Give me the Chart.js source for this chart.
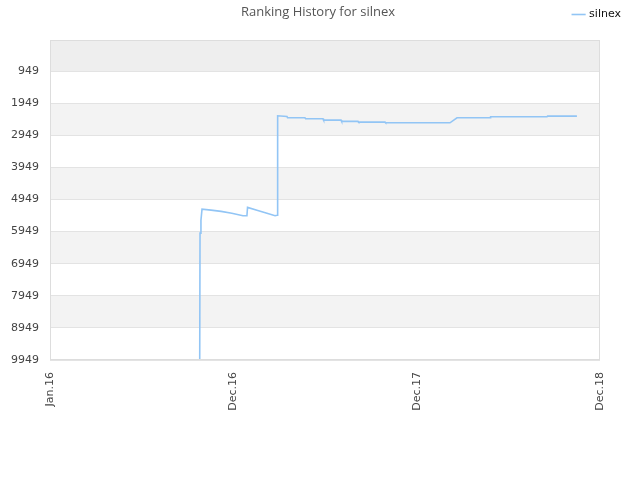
<!DOCTYPE html>
<html>
<head>
<meta charset="utf-8">
<script src="https://cdn.jsdelivr.net/npm/chart.js@4/dist/chart.umd.min.js"></script>
<style>
  html, body { margin: 0; padding: 0; background: #fff; }
  #wrap { width: 640px; height: 480px; }
</style>
</head>
<body>
<div id="wrap"><canvas id="chart" width="640" height="480"></canvas></div>
<script>
// month index from Jan.16 (tick labels are spaced evenly, 12 units apart)
const tickPositions = [0, 12, 24, 36];
const tickLabels = ['Jan.16', 'Dec.16', 'Dec.17', 'Dec.18'];
const rankTicks = [949, 1949, 2949, 3949, 4949, 5949, 6949, 7949, 8949, 9949];

// silnex ranking
const months = [9.49, 9.80, 9.82, 9.88, 9.95, 10.54, 11.2, 11.9, 12.63, 12.89, 12.93, 13.6, 14.2, 14.73, 14.86, 14.88, 14.92,
    15.51, 15.55, 16.69, 16.73, 17.87, 17.91, 19.05, 19.09, 20.16, 20.2, 21.93, 21.97, 26.18, 26.64, 28.8, 28.84, 32.53, 32.57, 34.49];
const ranks = [9949, 9949, 5995, 5600, 5248, 5279, 5320, 5380, 5456, 5456, 5195, 5290, 5380, 5456, 5440, 4300, 2341,
    2360, 2404, 2404, 2435, 2435, 2475, 2475, 2516, 2516, 2538, 2538, 2559, 2559, 2404, 2404, 2373, 2373, 2351, 2351];

let points = months.map(function (m, i) {
    return { x: m, y: ranks[i] };
});

/* alternating bands, frame and title */
const bandsPlugin = {
    id: 'bands',
    beforeDraw: function (chart) {
        let ctx = chart.ctx;
        let area = chart.chartArea;
        let y = chart.scales.y;
        ctx.save();
        // band above the first tick
        ctx.fillStyle = '#eeeeee';
        ctx.fillRect(area.left, area.top, area.right - area.left, y.getPixelForValue(rankTicks[0]) - area.top);
        for (let i = 0; i < rankTicks.length - 1; i++) {
            if (i % 2 === 1) {
                let top = y.getPixelForValue(rankTicks[i]);
                let bottom = y.getPixelForValue(rankTicks[i + 1]);
                ctx.fillStyle = '#f3f3f3';
                ctx.fillRect(area.left, top, area.right - area.left, bottom - top);
            }
        }
        ctx.restore();
    },
    afterDraw: function (chart) {
        let ctx = chart.ctx;
        let area = chart.chartArea;
        ctx.save();
        ctx.strokeStyle = '#dddddd';
        ctx.lineWidth = 1;
        ctx.strokeRect(area.left + 0.5, area.top + 0.5, area.right - area.left - 1, area.bottom - area.top - 1);
        ctx.fillStyle = '#555555';
        ctx.font = '13px "Open Sans", sans-serif';
        ctx.textAlign = 'center';
        ctx.textBaseline = 'middle';
        ctx.fillText('Ranking History for silnex', 318, 12);
        ctx.restore();
    }
};

let chart = new Chart(document.getElementById('chart').getContext('2d'), {
    type: 'line',
    data: {
        datasets: [{
            label: 'silnex',
            data: points,
            borderColor: '#92c5f5',
            backgroundColor: '#92c5f5',
            borderWidth: 1.6,
            pointRadius: 0,
            fill: false,
            tension: 0
        }]
    },
    options: {
        responsive: false,
        animation: false,
        layout: { padding: { left: 0, right: 10, top: 0, bottom: 0 } },
        plugins: {
            legend: {
                position: 'top',
                align: 'end',
                labels: {
                    usePointStyle: true,
                    pointStyle: 'line',
                    boxWidth: 10,
                    boxHeight: 10,
                    color: '#111',
                    font: { family: '"DejaVu Sans", sans-serif', size: 11 },
                    padding: 9
                }
            },
            title: { display: false },
            tooltip: { enabled: false }
        },
        scales: {
            x: {
                type: 'linear',
                min: 0,
                max: 36,
                afterBuildTicks: function (scale) {
                    scale.ticks = tickPositions.map(function (v) { return { value: v }; });
                },
                afterFit: function (scale) { scale.height = 120; },
                grid: { display: false, drawTicks: false },
                border: { display: false },
                ticks: {
                    minRotation: 90,
                    maxRotation: 90,
                    padding: 12,
                    color: '#444',
                    font: { family: '"DejaVu Sans", sans-serif', size: 11 },
                    callback: function (v) {
                        return tickLabels[tickPositions.indexOf(v)];
                    }
                }
            },
            // empty top axis, only a gap between legend and plot
            xTop: {
                type: 'linear',
                position: 'top',
                afterFit: function (scale) { scale.height = 10; },
                grid: { display: false, drawTicks: false },
                border: { display: false },
                ticks: { display: false }
            },
            y: {
                reverse: true,
                min: -20,
                max: 9949,
                afterBuildTicks: function (scale) {
                    scale.ticks = rankTicks.map(function (v) { return { value: v }; });
                },
                afterFit: function (scale) { scale.width = 50; },
                grid: { color: '#e3e3e3', drawTicks: false },
                border: { display: false },
                ticks: {
                    padding: 11,
                    color: '#444',
                    font: { family: '"DejaVu Sans", sans-serif', size: 11 },
                    callback: function (v) { return v; }
                }
            },
            // empty right-hand axis, only keeps space free at the right of the plot
            yRight: {
                position: 'right',
                afterFit: function (scale) { scale.width = 30; },
                grid: { display: false, drawTicks: false },
                border: { display: false },
                ticks: { display: false }
            }
        }
    },
    plugins: [bandsPlugin]
});
</script>
</body>
</html>
